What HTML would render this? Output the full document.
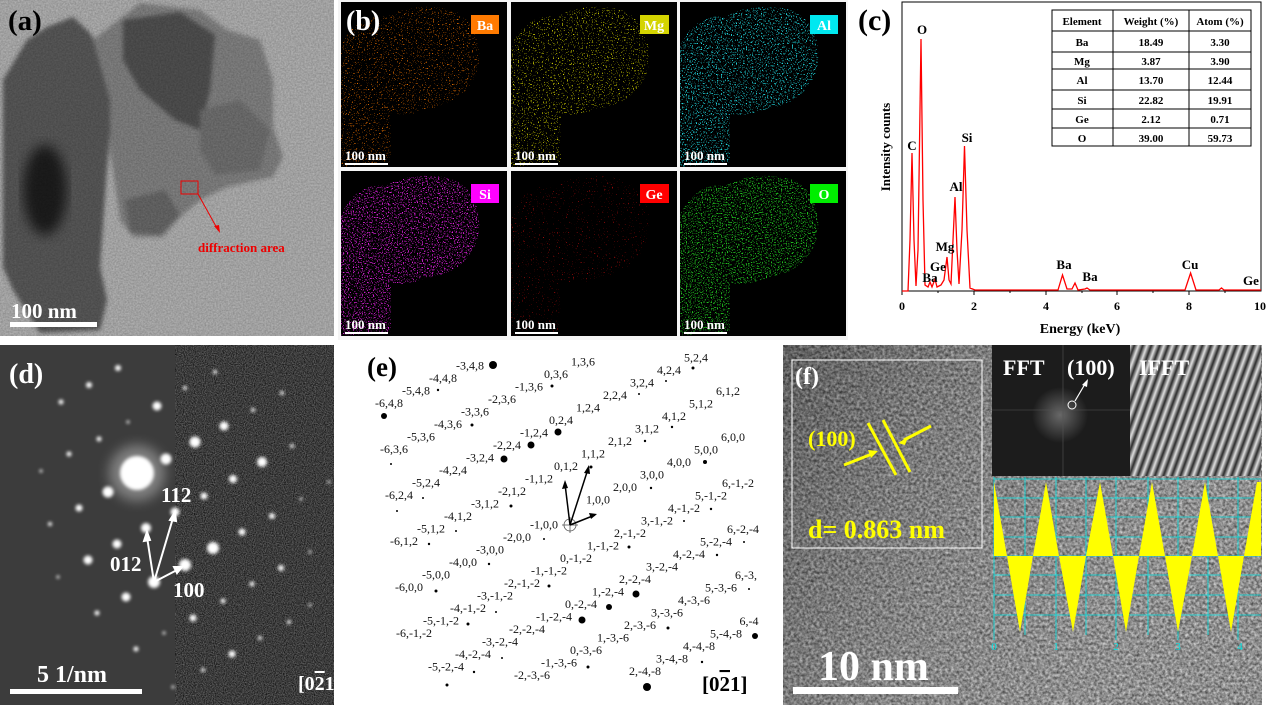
<!DOCTYPE html>
<html><head><meta charset="utf-8"><style>
html,body{margin:0;padding:0;background:#fff}
svg{display:block;color-interpolation-filters:sRGB}
text{font-family:"Liberation Serif",serif;font-weight:bold}
.l{font-weight:normal;font-size:12px;fill:#111}
</style></head><body>
<svg width="1270" height="714" viewBox="0 0 1270 714" xmlns="http://www.w3.org/2000/svg">
<defs>
<filter id="bl2" color-interpolation-filters="sRGB"><feGaussianBlur stdDeviation="2"/></filter>
<filter id="bl6" color-interpolation-filters="sRGB"><feGaussianBlur stdDeviation="6"/></filter>
<filter id="glow" x="-100%" y="-100%" width="300%" height="300%" color-interpolation-filters="sRGB"><feGaussianBlur stdDeviation="1.5"/></filter>
<filter id="glowB" x="-100%" y="-100%" width="300%" height="300%" color-interpolation-filters="sRGB"><feGaussianBlur stdDeviation="6"/></filter>
<filter id="noiseG" x="0" y="0" width="100%" height="100%" color-interpolation-filters="sRGB"><feTurbulence type="fractalNoise" baseFrequency="0.9" numOctaves="2" seed="3"/><feColorMatrix type="matrix" values="0.55 0 0 0 -0.04  0.55 0 0 0 -0.04  0.55 0 0 0 -0.04  0 0 0 0 1"/></filter>
<filter id="noiseF" x="0" y="0" width="100%" height="100%" color-interpolation-filters="sRGB"><feTurbulence type="fractalNoise" baseFrequency="0.35" numOctaves="2" seed="7"/><feColorMatrix type="matrix" values="0.8 0 0 0 0.12  0.8 0 0 0 0.12  0.8 0 0 0 0.12  0 0 0 0 1"/></filter>
<filter id="noiseA" x="0" y="0" width="100%" height="100%" color-interpolation-filters="sRGB"><feTurbulence type="fractalNoise" baseFrequency="0.6" numOctaves="2" seed="5"/><feColorMatrix type="matrix" values="0 0 0 0 0  0 0 0 0 0  0 0 0 0 0  0.3 0 0 0 0"/></filter>
<filter id="spBa" x="0" y="0" width="100%" height="100%" color-interpolation-filters="sRGB"><feTurbulence type="fractalNoise" baseFrequency="0.8" seed="2" result="n"/><feColorMatrix in="n" type="matrix" values="0 0 0 0 0 0 0 0 0 0 0 0 0 0 0 14 0 0 0 -9.0" result="a"/><feFlood flood-color="#ff7a00"/><feComposite in2="a" operator="in"/></filter>
<filter id="spMg" x="0" y="0" width="100%" height="100%" color-interpolation-filters="sRGB"><feTurbulence type="fractalNoise" baseFrequency="0.8" seed="4" result="n"/><feColorMatrix in="n" type="matrix" values="0 0 0 0 0 0 0 0 0 0 0 0 0 0 0 14 0 0 0 -8.8" result="a"/><feFlood flood-color="#e0e000"/><feComposite in2="a" operator="in"/></filter>
<filter id="spAl" x="0" y="0" width="100%" height="100%" color-interpolation-filters="sRGB"><feTurbulence type="fractalNoise" baseFrequency="0.8" seed="6" result="n"/><feColorMatrix in="n" type="matrix" values="0 0 0 0 0 0 0 0 0 0 0 0 0 0 0 12 0 0 0 -7.0" result="a"/><feFlood flood-color="#20d8e0"/><feComposite in2="a" operator="in"/></filter>
<filter id="spSi" x="0" y="0" width="100%" height="100%" color-interpolation-filters="sRGB"><feTurbulence type="fractalNoise" baseFrequency="0.8" seed="8" result="n"/><feColorMatrix in="n" type="matrix" values="0 0 0 0 0 0 0 0 0 0 0 0 0 0 0 12 0 0 0 -6.9" result="a"/><feFlood flood-color="#e020e0"/><feComposite in2="a" operator="in"/></filter>
<filter id="spGe" x="0" y="0" width="100%" height="100%" color-interpolation-filters="sRGB"><feTurbulence type="fractalNoise" baseFrequency="0.8" seed="9" result="n"/><feColorMatrix in="n" type="matrix" values="0 0 0 0 0 0 0 0 0 0 0 0 0 0 0 14 0 0 0 -9.6" result="a"/><feFlood flood-color="#ee1010"/><feComposite in2="a" operator="in"/></filter>
<filter id="spO" x="0" y="0" width="100%" height="100%" color-interpolation-filters="sRGB"><feTurbulence type="fractalNoise" baseFrequency="0.8" seed="11" result="n"/><feColorMatrix in="n" type="matrix" values="0 0 0 0 0 0 0 0 0 0 0 0 0 0 0 12 0 0 0 -6.8" result="a"/><feFlood flood-color="#20c020"/><feComposite in2="a" operator="in"/></filter>
<clipPath id="blob"><path d="M0,45 C10,20 30,12 45,15 C60,5 90,2 110,8 C130,15 140,35 138,60 C136,80 120,100 95,105 C80,108 70,115 50,112 L50,160 L0,165 Z"/></clipPath>
<clipPath id="cpD"><rect x="0" y="345" width="334" height="360"/></clipPath>
<clipPath id="cpF"><rect x="783" y="345" width="479" height="360"/></clipPath>
<clipPath id="cpA"><rect x="0" y="0" width="334" height="336"/></clipPath>
<linearGradient id="gf" x1="0" y1="0" x2="1" y2="0.4"><stop offset="0" stop-color="#000" stop-opacity="0.3"/><stop offset="1" stop-color="#fff" stop-opacity="0.08"/></linearGradient>
<linearGradient id="sg" x1="0" y1="0" x2="1" y2="0"><stop offset="0" stop-color="#2a2a2a"/><stop offset="0.5" stop-color="#e0e0e0"/><stop offset="1" stop-color="#2a2a2a"/></linearGradient>
<pattern id="stripes" patternUnits="userSpaceOnUse" width="8" height="8" patternTransform="rotate(20)"><rect width="8" height="8" fill="url(#sg)"/></pattern>
<radialGradient id="fg"><stop offset="0" stop-color="#888"/><stop offset="1" stop-color="#888" stop-opacity="0"/></radialGradient>
</defs>

<!-- (a) -->
<g clip-path="url(#cpA)">
<rect x="0" y="0" width="334" height="336" fill="#bcbcbc"/>
<g filter="url(#bl2)">
<path d="M3,80 L27,40 L47,27 L73,17 L90,33 L110,70 L113,100 L107,167 L100,267 L107,300 L100,330 L40,333 L13,290 L3,267 Z" fill="#5e5e5e"/>
<path d="M93,40 L140,3 L200,10 L227,30 L260,40 L273,80 L273,127 L283,157 L273,177 L227,187 L200,200 L180,217 L163,237 L133,237 L120,220 L117,197 L110,150 L110,100 Z" fill="#8a8a8a"/>
<path d="M123,20 L180,12 L215,35 L210,90 L200,130 L175,120 L140,90 L123,60 Z" fill="#555"/>
<path d="M200,110 L240,100 L270,130 L260,170 L215,175 L200,150 Z" fill="#777"/>
<path d="M125,200 L165,190 L180,215 L160,235 L130,232 Z" fill="#6e6e6e"/>
</g>
<ellipse cx="45" cy="190" rx="22" ry="45" fill="#1e1e1e" filter="url(#bl6)"/>
<rect x="0" y="0" width="334" height="336" filter="url(#noiseA)"/>
<rect x="181" y="181" width="17" height="13" fill="none" stroke="#e00" stroke-width="1"/>
<line x1="198" y1="194" x2="218" y2="230" stroke="#e00" stroke-width="1"/>
<polygon points="220,233 214,226 219,225" fill="#e00"/>
<text x="198" y="252" font-size="13" fill="#e00">diffraction area</text>
<text x="8" y="30" font-size="29" fill="#000">(a)</text>
<rect x="10" y="322" width="87" height="5" fill="#fff"/>
<text x="11" y="318" font-size="21" fill="#fff">100 nm</text>
</g>

<!-- (b) -->
<rect x="338" y="0" width="510" height="340" fill="#f4f4f4"/>
<g transform="translate(341,2)"><rect width="166" height="165" fill="#000"/><rect width="166" height="165" filter="url(#spBa)" clip-path="url(#blob)"/><rect x="130" y="13" width="28" height="19" fill="#ff7a00"/><text x="144" y="28" font-size="14" fill="#fff" text-anchor="middle">Ba</text><rect x="4" y="161" width="43" height="2" fill="#fff"/><text x="4" y="158" font-size="13" fill="#fff">100 nm</text><text x="5" y="28" font-size="28" fill="#fff">(b)</text></g>
<g transform="translate(511,2)"><rect width="166" height="165" fill="#000"/><rect width="166" height="165" filter="url(#spMg)" clip-path="url(#blob)"/><rect x="129" y="13" width="29" height="19" fill="#d4d400"/><text x="143" y="28" font-size="14" fill="#fff" text-anchor="middle">Mg</text><rect x="4" y="161" width="43" height="2" fill="#fff"/><text x="4" y="158" font-size="13" fill="#fff">100 nm</text></g>
<g transform="translate(680,2)"><rect width="166" height="165" fill="#000"/><rect width="166" height="165" filter="url(#spAl)" clip-path="url(#blob)"/><rect x="130" y="13" width="28" height="19" fill="#00e8f0"/><text x="144" y="28" font-size="14" fill="#fff" text-anchor="middle">Al</text><rect x="4" y="161" width="43" height="2" fill="#fff"/><text x="4" y="158" font-size="13" fill="#fff">100 nm</text></g>
<g transform="translate(341,171)"><rect width="166" height="165" fill="#000"/><rect width="166" height="165" filter="url(#spSi)" clip-path="url(#blob)"/><rect x="130" y="13" width="28" height="19" fill="#ff00ff"/><text x="144" y="28" font-size="14" fill="#fff" text-anchor="middle">Si</text><rect x="4" y="161" width="43" height="2" fill="#fff"/><text x="4" y="158" font-size="13" fill="#fff">100 nm</text></g>
<g transform="translate(511,171)"><rect width="166" height="165" fill="#000"/><rect width="166" height="165" filter="url(#spGe)" clip-path="url(#blob)"/><rect x="129" y="13" width="29" height="19" fill="#ff0000"/><text x="143" y="28" font-size="14" fill="#fff" text-anchor="middle">Ge</text><rect x="4" y="161" width="43" height="2" fill="#fff"/><text x="4" y="158" font-size="13" fill="#fff">100 nm</text></g>
<g transform="translate(680,171)"><rect width="166" height="165" fill="#000"/><rect width="166" height="165" filter="url(#spO)" clip-path="url(#blob)"/><rect x="130" y="13" width="28" height="19" fill="#00ee00"/><text x="144" y="28" font-size="14" fill="#fff" text-anchor="middle">O</text><rect x="4" y="161" width="43" height="2" fill="#fff"/><text x="4" y="158" font-size="13" fill="#fff">100 nm</text></g>

<!-- (c) -->
<rect x="902" y="2" width="359" height="289" fill="none" stroke="#000" stroke-width="1"/>
<g stroke="#000" stroke-width="1">
<line x1="902" y1="291" x2="902" y2="295"/><line x1="938" y1="291" x2="938" y2="293"/><line x1="974" y1="291" x2="974" y2="295"/><line x1="1010" y1="291" x2="1010" y2="293"/><line x1="1046" y1="291" x2="1046" y2="295"/><line x1="1082" y1="291" x2="1082" y2="293"/><line x1="1117" y1="291" x2="1117" y2="295"/><line x1="1153" y1="291" x2="1153" y2="293"/><line x1="1189" y1="291" x2="1189" y2="295"/><line x1="1225" y1="291" x2="1225" y2="293"/>
</g>
<g font-size="12" text-anchor="middle" fill="#000"><text x="902" y="310">0</text><text x="974" y="310">2</text><text x="1046" y="310">4</text><text x="1117" y="310">6</text><text x="1189" y="310">8</text><text x="1260" y="310">10</text></g>
<text x="1080" y="333" font-size="14" text-anchor="middle">Energy (keV)</text>
<text transform="translate(890,147) rotate(-90)" font-size="13" text-anchor="middle">Intensity counts</text>
<text x="858" y="30" font-size="30">(c)</text>
<path d="M902,291 L908,291 L910,240 L912,153 L914,240 L916,286 L918,250 L921,39 L923,200 L925,285 L928,287 L930,282 L932,287 L935,279 L937,287 L941,285 L944,280 L947,257 L949,280 L951,284 L953,240 L955,197 L957,250 L959,284 L962,230 L964.5,146 L967,230 L970,288 L975,290 L1058,290 L1062.5,275 L1067,289 L1072,289 L1075,283 L1078,290 L1085,289 L1087,288 L1090,290 L1185,290 L1190.6,273 L1196,290 L1219,290 L1221.5,288 L1224,290 L1261,290" fill="none" stroke="#f00" stroke-width="1.3"/>
<g font-size="13" text-anchor="middle" fill="#000">
<text x="922" y="34">O</text><text x="912" y="150">C</text><text x="967" y="142">Si</text><text x="956" y="191">Al</text><text x="945" y="251">Mg</text><text x="938" y="271">Ge</text><text x="930" y="282">Ba</text><text x="1064" y="269">Ba</text><text x="1090" y="281">Ba</text><text x="1190" y="269">Cu</text><text x="1251" y="285">Ge</text>
</g>
<g stroke="#000" stroke-width="1" fill="#fff">
<rect x="1052" y="10" width="199" height="136"/>
<line x1="1052" y1="31" x2="1251" y2="31"/><line x1="1052" y1="52" x2="1251" y2="52"/><line x1="1052" y1="69" x2="1251" y2="69"/><line x1="1052" y1="90" x2="1251" y2="90"/><line x1="1052" y1="109" x2="1251" y2="109"/><line x1="1052" y1="128" x2="1251" y2="128"/>
<line x1="1113" y1="10" x2="1113" y2="146"/><line x1="1189" y1="10" x2="1189" y2="146"/>
</g>
<g font-size="11" text-anchor="middle" fill="#000">
<text x="1082" y="25">Element</text><text x="1151" y="25">Weight (%)</text><text x="1220" y="25">Atom (%)</text>
<text x="1082" y="46">Ba</text><text x="1151" y="46">18.49</text><text x="1220" y="46">3.30</text>
<text x="1082" y="65">Mg</text><text x="1151" y="65">3.87</text><text x="1220" y="65">3.90</text>
<text x="1082" y="84">Al</text><text x="1151" y="84">13.70</text><text x="1220" y="84">12.44</text>
<text x="1082" y="104">Si</text><text x="1151" y="104">22.82</text><text x="1220" y="104">19.91</text>
<text x="1082" y="123">Ge</text><text x="1151" y="123">2.12</text><text x="1220" y="123">0.71</text>
<text x="1082" y="142">O</text><text x="1151" y="142">39.00</text><text x="1220" y="142">59.73</text>
</g>

<!-- (d) -->
<g clip-path="url(#cpD)">
<rect x="0" y="345" width="334" height="360" fill="#3c3c3c"/>
<rect x="175" y="345" width="160" height="360" filter="url(#noiseG)"/>
<circle cx="137" cy="473" r="28" fill="#fff" opacity="0.35" filter="url(#glowB)"/>
<circle cx="137" cy="473" r="17" fill="#fff" filter="url(#glow)"/>
<g fill="#fff" filter="url(#glow)">
<circle cx="118" cy="368" r="3"/><circle cx="89" cy="385" r="3"/><circle cx="61" cy="402" r="2.5"/><circle cx="157" cy="406" r="4.5"/><circle cx="224" cy="426" r="4.5"/><circle cx="195" cy="442" r="5.5"/><circle cx="99" cy="439" r="2.5"/><circle cx="128" cy="422" r="1.5"/><circle cx="69" cy="454" r="2.5"/><circle cx="166" cy="459" r="5.5"/><circle cx="262" cy="462" r="5"/><circle cx="41" cy="471" r="1.5"/><circle cx="108" cy="492" r="5.5"/><circle cx="233" cy="479" r="4"/><circle cx="204" cy="496" r="3.5"/><circle cx="79" cy="508" r="3.5"/><circle cx="175" cy="512" r="4.5"/><circle cx="272" cy="516" r="3"/><circle cx="50" cy="524" r="2"/><circle cx="146" cy="528" r="5"/><circle cx="242" cy="532" r="3.5"/><circle cx="117" cy="544" r="4.5"/><circle cx="213" cy="548" r="6"/><circle cx="88" cy="560" r="4.5"/><circle cx="185" cy="565" r="6"/><circle cx="281" cy="568" r="3"/><circle cx="310" cy="552" r="1.5"/><circle cx="154" cy="582" r="6"/><circle cx="58" cy="577" r="1.5"/><circle cx="126" cy="597" r="4.5"/><circle cx="252" cy="584" r="2.5"/><circle cx="223" cy="601" r="2.5"/><circle cx="97" cy="613" r="2.5"/><circle cx="193" cy="618" r="3.5"/><circle cx="289" cy="622" r="2"/><circle cx="164" cy="633" r="1.5"/><circle cx="260" cy="638" r="2"/><circle cx="136" cy="649" r="2.5"/><circle cx="232" cy="654" r="3.5"/><circle cx="203" cy="670" r="2"/><circle cx="282" cy="393" r="2"/><circle cx="253" cy="410" r="2"/><circle cx="292" cy="446" r="2"/><circle cx="301" cy="499" r="1.5"/><circle cx="329" cy="482" r="1.5"/><circle cx="215" cy="372" r="2"/><circle cx="185" cy="388" r="2"/><circle cx="173" cy="687" r="1.5"/><circle cx="310" cy="605" r="1.5"/>
</g>
<g stroke="#fff" stroke-width="2" fill="#fff">
<line x1="154" y1="582" x2="147" y2="537"/><polygon points="147,532 144,541 150,540"/>
<line x1="154" y1="582" x2="173" y2="518"/><polygon points="175,512 170,520 176,521"/>
<line x1="154" y1="582" x2="177" y2="570"/><polygon points="182,567 174,567 177,573"/>
</g>
<g fill="#fff">
<text x="161" y="502" font-size="21">112</text><text x="110" y="571" font-size="21">012</text><text x="173" y="597" font-size="21">100</text>
<text x="9" y="383" font-size="28">(d)</text>
<text x="37" y="682" font-size="24">5 1/nm</text>
<rect x="10" y="689" width="132" height="5"/>
<text x="298" y="690" font-size="20">[0<tspan text-decoration="overline">2</tspan>1]</text>
</g>
</g>

<!-- (e) -->
<text x="367" y="376" font-size="27">(e)</text>
<text x="702" y="691" font-size="21">[0<tspan text-decoration="overline">2</tspan>1]</text>
<g text-anchor="middle" class="l">
<g transform="translate(551,332)"><text x="-162" y="75" class="l">-6,4,8</text><text x="-135" y="62.5" class="l">-5,4,8</text><text x="-108" y="50" class="l">-4,4,8</text><text x="-81" y="37.5" class="l">-3,4,8</text></g>
<g transform="translate(556,378)"><text x="-162" y="75" class="l">-6,3,6</text><text x="-135" y="62.5" class="l">-5,3,6</text><text x="-108" y="50" class="l">-4,3,6</text><text x="-81" y="37.5" class="l">-3,3,6</text><text x="-54" y="25" class="l">-2,3,6</text><text x="-27" y="12.5" class="l">-1,3,6</text><text x="0" y="0" class="l">0,3,6</text><text x="27" y="-12.5" class="l">1,3,6</text></g>
<g transform="translate(561,424)"><text x="-162" y="75" class="l">-6,2,4</text><text x="-135" y="62.5" class="l">-5,2,4</text><text x="-108" y="50" class="l">-4,2,4</text><text x="-81" y="37.5" class="l">-3,2,4</text><text x="-54" y="25" class="l">-2,2,4</text><text x="-27" y="12.5" class="l">-1,2,4</text><text x="0" y="0" class="l">0,2,4</text><text x="27" y="-12.5" class="l">1,2,4</text><text x="54" y="-25" class="l">2,2,4</text><text x="81" y="-37.5" class="l">3,2,4</text><text x="108" y="-50" class="l">4,2,4</text><text x="135" y="-62.5" class="l">5,2,4</text></g>
<g transform="translate(566,470)"><text x="-162" y="75" class="l">-6,1,2</text><text x="-135" y="62.5" class="l">-5,1,2</text><text x="-108" y="50" class="l">-4,1,2</text><text x="-81" y="37.5" class="l">-3,1,2</text><text x="-54" y="25" class="l">-2,1,2</text><text x="-27" y="12.5" class="l">-1,1,2</text><text x="0" y="0" class="l">0,1,2</text><text x="27" y="-12.5" class="l">1,1,2</text><text x="54" y="-25" class="l">2,1,2</text><text x="81" y="-37.5" class="l">3,1,2</text><text x="108" y="-50" class="l">4,1,2</text><text x="135" y="-62.5" class="l">5,1,2</text><text x="162" y="-75" class="l">6,1,2</text></g>
<g transform="translate(571,516)"><text x="-162" y="75" class="l">-6,0,0</text><text x="-135" y="62.5" class="l">-5,0,0</text><text x="-108" y="50" class="l">-4,0,0</text><text x="-81" y="37.5" class="l">-3,0,0</text><text x="-54" y="25" class="l">-2,0,0</text><text x="-27" y="12.5" class="l">-1,0,0</text><text x="27" y="-12.5" class="l">1,0,0</text><text x="54" y="-25" class="l">2,0,0</text><text x="81" y="-37.5" class="l">3,0,0</text><text x="108" y="-50" class="l">4,0,0</text><text x="135" y="-62.5" class="l">5,0,0</text><text x="162" y="-75" class="l">6,0,0</text></g>
<g transform="translate(576,562)"><text x="-162" y="75" class="l">-6,-1,-2</text><text x="-135" y="62.5" class="l">-5,-1,-2</text><text x="-108" y="50" class="l">-4,-1,-2</text><text x="-81" y="37.5" class="l">-3,-1,-2</text><text x="-54" y="25" class="l">-2,-1,-2</text><text x="-27" y="12.5" class="l">-1,-1,-2</text><text x="0" y="0" class="l">0,-1,-2</text><text x="27" y="-12.5" class="l">1,-1,-2</text><text x="54" y="-25" class="l">2,-1,-2</text><text x="81" y="-37.5" class="l">3,-1,-2</text><text x="108" y="-50" class="l">4,-1,-2</text><text x="135" y="-62.5" class="l">5,-1,-2</text><text x="162" y="-75" class="l">6,-1,-2</text></g>
<g transform="translate(581,608)"><text x="-135" y="62.5" class="l">-5,-2,-4</text><text x="-108" y="50" class="l">-4,-2,-4</text><text x="-81" y="37.5" class="l">-3,-2,-4</text><text x="-54" y="25" class="l">-2,-2,-4</text><text x="-27" y="12.5" class="l">-1,-2,-4</text><text x="0" y="0" class="l">0,-2,-4</text><text x="27" y="-12.5" class="l">1,-2,-4</text><text x="54" y="-25" class="l">2,-2,-4</text><text x="81" y="-37.5" class="l">3,-2,-4</text><text x="108" y="-50" class="l">4,-2,-4</text><text x="135" y="-62.5" class="l">5,-2,-4</text><text x="162" y="-75" class="l">6,-2,-4</text></g>
<g transform="translate(586,654)"><text x="-54" y="25" class="l">-2,-3,-6</text><text x="-27" y="12.5" class="l">-1,-3,-6</text><text x="0" y="0" class="l">0,-3,-6</text><text x="27" y="-12.5" class="l">1,-3,-6</text><text x="54" y="-25" class="l">2,-3,-6</text><text x="81" y="-37.5" class="l">3,-3,-6</text><text x="108" y="-50" class="l">4,-3,-6</text><text x="135" y="-62.5" class="l">5,-3,-6</text><text x="160" y="-75" class="l">6,-3,</text></g>
<g transform="translate(591,700)"><text x="54" y="-25" class="l">2,-4,-8</text><text x="81" y="-37.5" class="l">3,-4,-8</text><text x="108" y="-50" class="l">4,-4,-8</text><text x="135" y="-62.5" class="l">5,-4,-8</text><text x="158" y="-75" class="l">6,-4</text></g>
</g>
<g fill="#000">
<circle cx="493" cy="365" r="4"/><circle cx="384" cy="416" r="3"/><circle cx="558" cy="432" r="3.5"/><circle cx="531" cy="445" r="3.5"/><circle cx="504" cy="459" r="3.5"/><circle cx="636" cy="594" r="3.5"/><circle cx="609" cy="607" r="3"/><circle cx="582" cy="620" r="3.5"/><circle cx="755" cy="636" r="3"/><circle cx="647" cy="687" r="4"/><circle cx="705" cy="462" r="2"/>
<circle cx="438" cy="390" r="1.2"/><circle cx="552" cy="386" r="1.5"/><circle cx="472" cy="425" r="1.5"/><circle cx="391" cy="464" r="1"/><circle cx="639" cy="394" r="1"/><circle cx="666" cy="381" r="1"/><circle cx="693" cy="368" r="1.5"/><circle cx="672" cy="427" r="1.2"/><circle cx="645" cy="441" r="1.2"/><circle cx="651" cy="488" r="1.2"/><circle cx="591" cy="467" r="1.5"/><circle cx="511" cy="506" r="1.5"/><circle cx="423" cy="498" r="1"/><circle cx="397" cy="511" r="1"/><circle cx="429" cy="544" r="1.2"/><circle cx="456" cy="531" r="1"/><circle cx="489" cy="564" r="1.2"/><circle cx="436" cy="591" r="1.5"/><circle cx="544" cy="539" r="1"/><circle cx="549" cy="586" r="1.5"/><circle cx="496" cy="612" r="1"/><circle cx="468" cy="624" r="1.5"/><circle cx="502" cy="658" r="1"/><circle cx="474" cy="672" r="1.2"/><circle cx="447" cy="685" r="1.5"/><circle cx="588" cy="667" r="1.5"/><circle cx="629" cy="547" r="1.5"/><circle cx="684" cy="521" r="1"/><circle cx="711" cy="509" r="1.2"/><circle cx="744" cy="542" r="1"/><circle cx="717" cy="555" r="1.2"/><circle cx="668" cy="628" r="1.5"/><circle cx="702" cy="662" r="1.2"/><circle cx="749" cy="589" r="1"/>
</g>
<g stroke="#000" stroke-width="1.5" fill="none">
<circle cx="570" cy="525" r="6" stroke-width="0.8" stroke="#555"/><line x1="562" y1="525" x2="578" y2="525" stroke-width="0.8" stroke="#555"/><line x1="570" y1="517" x2="570" y2="533" stroke-width="0.8" stroke="#555"/>
<line x1="570" y1="525" x2="565" y2="484"/><line x1="570" y1="525" x2="588" y2="469"/><line x1="570" y1="525" x2="595" y2="515"/>
</g>
<g fill="#000"><polygon points="565,480 562,489 568,488"/><polygon points="589,465 584,473 590,474"/><polygon points="597,514 589,513 591,519"/></g>

<!-- (f) -->
<g clip-path="url(#cpF)">
<rect x="783" y="345" width="479" height="360" filter="url(#noiseF)"/>
<rect x="783" y="345" width="479" height="360" fill="url(#gf)"/>
<rect x="792" y="360" width="190" height="188" fill="none" stroke="#fff" stroke-width="1"/>
<text x="795" y="384" font-size="24" fill="#fff">(f)</text>
<text x="808" y="446" font-size="22" fill="#ff0">(100)</text>
<g stroke="#ff0" stroke-width="3"><line x1="868" y1="423" x2="896" y2="475"/><line x1="883" y1="420" x2="910" y2="472"/><line x1="844" y1="465" x2="872" y2="454"/><line x1="931" y1="426" x2="904" y2="440"/></g>
<polygon points="878,451 868,450 871,458" fill="#ff0"/><polygon points="898,443 908,437 905,445" fill="#ff0"/>
<text x="808" y="538" font-size="26" fill="#ff0">d= 0.863 nm</text>
<rect x="992" y="345" width="138" height="131" fill="#1c1c1c"/>
<circle cx="1060" cy="415" r="28" fill="url(#fg)" opacity="0.7"/>
<line x1="992" y1="410" x2="1130" y2="410" stroke="#555" stroke-width="0.6"/><line x1="1063" y1="345" x2="1063" y2="476" stroke="#555" stroke-width="0.6"/>
<circle cx="1072" cy="405" r="4" fill="none" stroke="#fff" stroke-width="1"/>
<line x1="1075" y1="401" x2="1085" y2="384" stroke="#fff" stroke-width="1.2"/><polygon points="1088,379 1082,385 1087,387" fill="#fff"/>
<text x="1003" y="375" font-size="22" fill="#fff">FFT</text>
<text x="1067" y="375" font-size="22" fill="#fff">(100)</text>
<rect x="1130" y="345" width="131" height="131" fill="url(#stripes)"/>
<text x="1139" y="375" font-size="22" fill="#fff">IFFT</text>
<g stroke="#00e0e0" stroke-width="0.8">
<line x1="994" y1="479" x2="1261" y2="479"/><line x1="994" y1="498" x2="1261" y2="498"/><line x1="994" y1="517" x2="1261" y2="517"/><line x1="994" y1="537" x2="1261" y2="537"/><line x1="994" y1="556" x2="1261" y2="556"/><line x1="994" y1="575" x2="1261" y2="575"/><line x1="994" y1="595" x2="1261" y2="595"/><line x1="994" y1="615" x2="1261" y2="615"/>
<line x1="994" y1="477" x2="994" y2="640"/><line x1="1025" y1="477" x2="1025" y2="635"/><line x1="1056" y1="477" x2="1056" y2="640"/><line x1="1086" y1="477" x2="1086" y2="635"/><line x1="1116" y1="477" x2="1116" y2="640"/><line x1="1148" y1="477" x2="1148" y2="635"/><line x1="1178" y1="477" x2="1178" y2="640"/><line x1="1208" y1="477" x2="1208" y2="635"/><line x1="1238" y1="477" x2="1238" y2="640"/>
</g>
<path fill="#ff0" d="M994,556 L994,482 L1007,556 Z M1007,556 L1020,632 L1033,556 Z M1033,556 L1046,482 L1059,556 Z M1059,556 L1073,632 L1086,556 Z M1086,556 L1100,482 L1113,556 Z M1113,556 L1126,632 L1139,556 Z M1139,556 L1152,482 L1165,556 Z M1165,556 L1178,632 L1192,556 Z M1192,556 L1205,482 L1218,556 Z M1218,556 L1231,632 L1244,556 Z M1244,556 L1257,482 L1261,482 L1261,556 Z"/>
<g fill="#00e0e0" font-size="11" text-anchor="middle"><text x="994" y="650" style="font-weight:normal">0</text><text x="1056" y="650" style="font-weight:normal">1</text><text x="1116" y="650" style="font-weight:normal">2</text><text x="1178" y="650" style="font-weight:normal">3</text><text x="1240" y="650" style="font-weight:normal">4</text></g>
<text x="818" y="680" font-size="42" fill="#fff">10 nm</text>
<rect x="793" y="687" width="165" height="7" fill="#fff"/>
</g>
</svg>
</body></html>
